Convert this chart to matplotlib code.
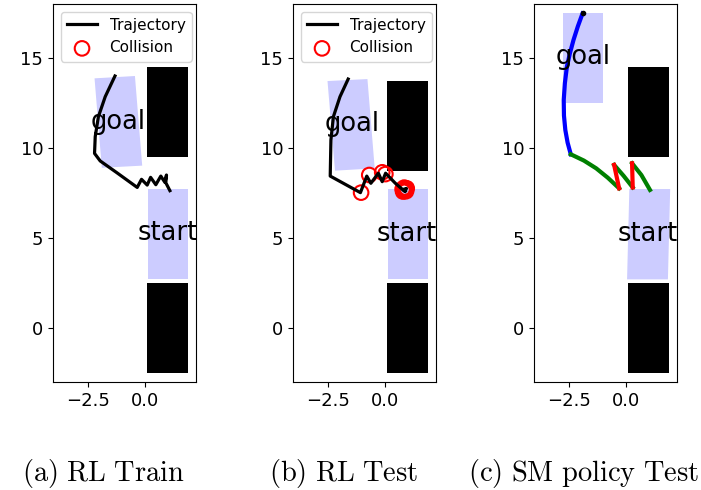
import matplotlib
matplotlib.use("Agg")
import matplotlib.pyplot as plt
from matplotlib.patches import Polygon, Rectangle

plt.rcParams['mathtext.fontset'] = 'cm'

# ---- data ----
captions = ["(a) RL Train", "(b) RL Test", "(c) SM policy Test"]
xticks = [-2.5, 0.0]
yticks = [0, 5, 10, 15]

# obstacles (x0, y0, w, h) per panel
obstacles = [
    [(0.1, 9.5, 1.8, 5.0), (0.1, -2.5, 1.8, 5.0)],
    [(0.1, 8.7, 1.8, 5.0), (0.1, -2.5, 1.8, 5.0)],
    [(0.1, 9.5, 1.8, 5.0), (0.1, -2.5, 1.8, 5.0)],
]
# start regions (polygon corners)
start_regions = [
    [(0.12, 7.7), (1.9, 7.7), (1.9, 2.7), (0.12, 2.7)],
    [(0.12, 7.7), (1.9, 7.7), (1.9, 2.7), (0.12, 2.7)],
    [(0.15, 7.72), (1.95, 7.72), (1.85, 2.7), (0.05, 2.7)],
]
# goal regions (polygon corners)
goal_regions = [
    [(-2.22, 13.87), (-0.44, 14.0), (-0.12, 9.02), (-1.90, 8.9)],
    [(-2.53, 13.72), (-0.77, 13.83), (-0.45, 8.87), (-2.2, 8.74)],
    [(-2.77, 17.48), (-1.0, 17.48), (-1.0, 12.48), (-2.77, 12.48)],
]
goal_text_pos = [(-1.17, 11.46), (-1.45, 11.33), (-1.88, 15.04)]
start_text_pos = [(1.02, 5.26), (0.96, 5.2), (0.96, 5.2)]

# trajectories
traj1_x = [-1.32, -1.75, -2.05, -2.19, -2.22, -1.97, -1.24, -0.34, -0.15, 0.10, 0.25, 0.48, 0.70, 0.88, 0.95, 0.92, 1.10]
traj1_y = [14.0, 12.85, 11.74, 10.63, 9.70, 9.28, 8.63, 7.81, 8.26, 7.94, 8.37, 7.96, 8.44, 8.09, 8.50, 8.07, 7.63]

traj2_x = [-1.62, -1.98, -2.27, -2.38, -2.41, -1.08, -0.80, -0.62, -0.29, -0.12, 0.03, 0.46, 0.86, 0.95, 0.80, 0.90]
traj2_y = [13.83, 12.85, 11.74, 10.44, 8.44, 7.52, 8.44, 8.04, 8.6, 8.13, 8.6, 8.04, 7.6, 7.75, 7.7, 7.6]
coll2_x = [-1.05, -0.69, -0.12, 0.02, 0.82, 0.96, 0.88, 0.78, 0.92, 0.85, 0.80, 0.90, 0.86, 0.83, 0.93]
coll2_y = [7.52, 8.5, 8.65, 8.55, 7.67, 7.76, 7.62, 7.72, 7.70, 7.8, 7.58, 7.66, 7.74, 7.64, 7.6]

blue_x = [-1.91, -2.12, -2.31, -2.47, -2.60, -2.69, -2.74, -2.73, -2.67, -2.57, -2.43]
blue_y = [17.48, 16.75, 16.0, 15.25, 14.52, 13.6, 12.67, 11.8, 11.0, 10.3, 9.65]
green_segs = [
    ([-2.43, -1.85, -1.31, -0.80, -0.30], [9.65, 9.30, 8.87, 8.35, 7.76]),
    ([-0.52, -0.1, 0.30], [9.06, 8.45, 7.81]),
    ([0.27, 0.68, 1.06], [9.15, 8.5, 7.67]),
]
red_segs = [
    ([-0.30, -0.52], [7.76, 9.06]),
    ([0.30, 0.27], [7.81, 9.15]),
]

fig = plt.figure(figsize=(7.01, 4.9), dpi=100)
lefts = [53 / 701, 293 / 701, 534 / 701]
W = 143 / 701
B = (490 - 382) / 490
H = 378 / 490
caption_cx = [103 / 701, 344 / 701, 583 / 701]

axes = []
for i in range(3):
    ax = fig.add_axes([lefts[i], B, W, H])
    axes.append(ax)
    ax.set_xlim(-4.05, 2.25)
    ax.set_ylim(-3.0, 18.0)
    for (x0, y0, w, h) in obstacles[i]:
        ax.add_patch(Rectangle((x0, y0), w, h, facecolor='black', edgecolor='none'))
    ax.add_patch(Polygon(start_regions[i], closed=True, facecolor='blue', alpha=0.2, edgecolor='none'))
    ax.add_patch(Polygon(goal_regions[i], closed=True, facecolor='blue', alpha=0.2, edgecolor='none'))
    ax.text(*goal_text_pos[i], 'goal', fontsize=18.5, ha='center', va='center')
    ax.text(*start_text_pos[i], 'start', fontsize=18.5, ha='center', va='center')
    ax.set_xticks(xticks)
    ax.set_yticks(yticks)
    ax.tick_params(labelsize=13)
    fig.text(caption_cx[i], 1 - 473 / 490, r'$\mathrm{' + captions[i].replace(' ', r'\ ') + '}$',
             fontsize=20.5, ha='center', va='center')

ax = axes[0]
ax.plot(traj1_x, traj1_y, color='black', lw=2.3, label='Trajectory')
ax.scatter([], [], s=110, facecolors='none', edgecolors='red', linewidths=1.5, label='Collision')
ax.legend(loc='upper left', fontsize=11)

ax = axes[1]
ax.plot(traj2_x, traj2_y, color='black', lw=2.3, label='Trajectory')
ax.scatter(coll2_x, coll2_y, s=110, facecolors='none', edgecolors='red', linewidths=1.5, label='Collision')
ax.legend(loc='upper left', fontsize=11)

ax = axes[2]
ax.plot(blue_x, blue_y, color='blue', lw=3)
ax.plot(blue_x[:1], blue_y[:1], 'o', color='black', ms=3)
for sx, sy in green_segs:
    ax.plot(sx, sy, color='green', lw=3)
for sx, sy in red_segs:
    ax.plot(sx, sy, color='red', lw=3)

fig.savefig('out.png', dpi=100)
